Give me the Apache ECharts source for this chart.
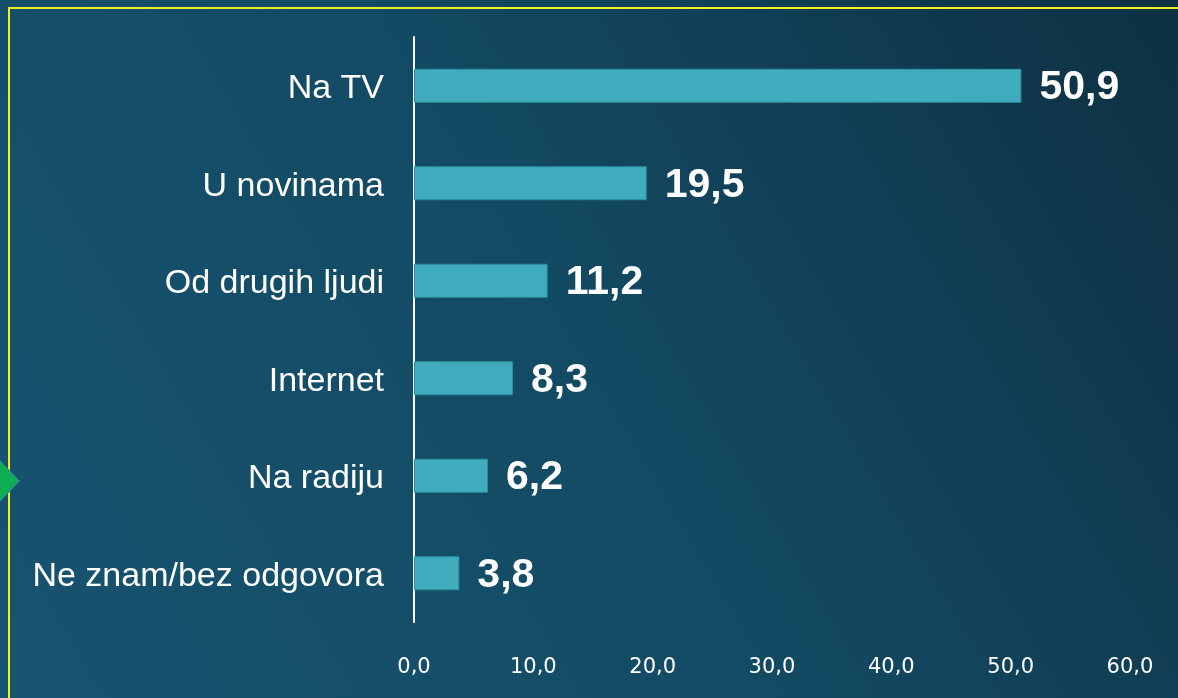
<!DOCTYPE html>
<html><head><meta charset="utf-8">
<script src="https://cdn.jsdelivr.net/npm/echarts@6/dist/echarts.min.js"></script>
<style>html,body{margin:0;padding:0;}#c{width:1178px;height:698px;}</style>
</head><body><div id="c"></div>
<script>
const categories = ["Na TV", "U novinama", "Od drugih ljudi", "Internet", "Na radiju", "Ne znam/bez odgovora"];
const values = [50.9, 19.5, 11.2, 8.3, 6.2, 3.8];
const xTicks = [0, 10, 20, 30, 40, 50, 60];

const fmt = v => v.toFixed(1).replace('.', ',');
const chart = echarts.init(document.getElementById('c'));
chart.setOption({
  backgroundColor: {
    type: 'linear', x: 0, y: 1, x2: 1, y2: 0,
    colorStops: [
      {offset: 0, color: '#175470'},
      {offset: 0.5, color: '#134a63'},
      {offset: 1, color: '#0e3043'}
    ]
  },
  animation: false,
  grid: {left: 414, right: 48, top: 37, bottom: 76, containLabel: false},
  xAxis: {
    type: 'value', min: xTicks[0], max: xTicks[xTicks.length-1], interval: 10,
    axisLine: {show: false}, axisTick: {show: false}, splitLine: {show: false},
    axisLabel: {color: '#ffffff', fontFamily: 'DejaVu Sans', fontSize: 21, margin: 35,
      formatter: v => fmt(v)}
  },
  yAxis: {
    type: 'category', data: categories, inverse: true,
    axisLine: {show: true, lineStyle: {color: '#ffffff', width: 2}},
    axisTick: {show: false},
    axisLabel: {margin: 30, formatter: v => '{a|' + v + '}',
      rich: {a: {color: '#ffffff', fontFamily: 'Liberation Sans', fontSize: 34,
        padding: [6, 0, 0, 0]}}}
  },
  series: [{
    type: 'bar', data: values, barWidth: 34,
    itemStyle: {color: '#3fadbd', borderColor: '#2f8f9e', borderWidth: 1},
    label: {show: true, position: 'right', distance: 18, color: '#ffffff',
      fontFamily: 'Liberation Sans', fontWeight: 'bold', fontSize: 41,
      offset: [0, 2],
      formatter: p => fmt(p.value)}
  }],
  graphic: [
    {type: 'rect', shape: {x: 9, y: 8, width: 1200, height: 800}, silent: true,
      style: {fill: 'none', stroke: '#f0f020', lineWidth: 2}},
    {type: 'polygon', shape: {points: [[-20, 481], [0, 461], [19, 481], [0, 501]]},
      style: {fill: '#0fae52', stroke: '#2a8a8a', lineWidth: 1.5}}
  ]
});
</script></body></html>
